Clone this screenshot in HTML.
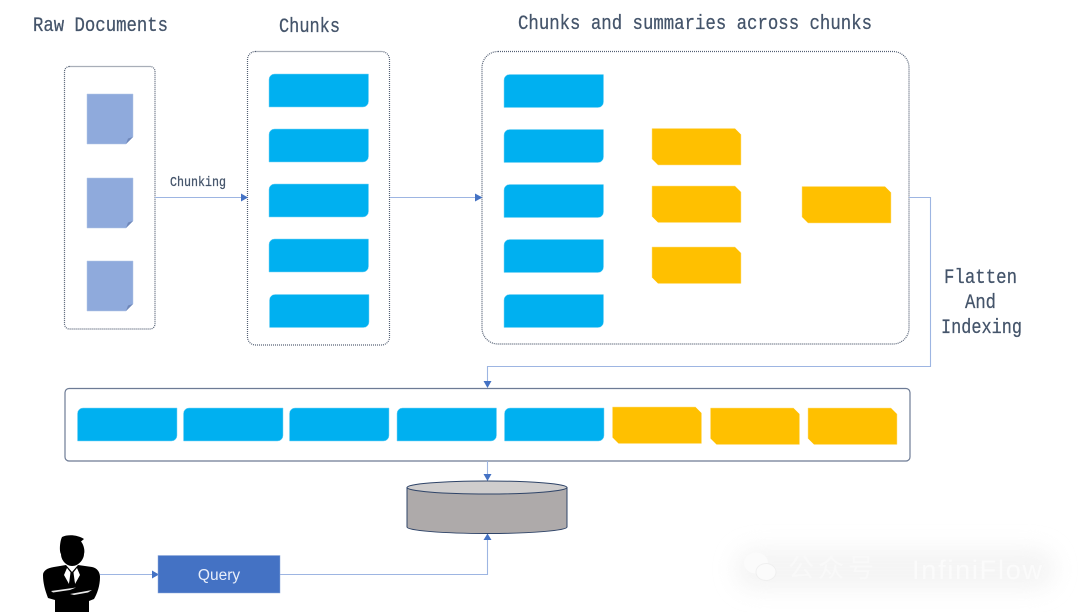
<!DOCTYPE html>
<html>
<head>
<meta charset="utf-8">
<style>
html,body{margin:0;padding:0;background:#fff;width:1080px;height:612px;overflow:hidden}
svg{display:block;filter:blur(.35px)}
.t{font-family:"Liberation Mono","DejaVu Sans Mono",monospace;fill:#44546a;stroke:#44546a;stroke-width:.25}
</style>
</head>
<body>
<svg width="1080" height="612" viewBox="0 0 1080 612" xmlns="http://www.w3.org/2000/svg">
<defs>
<path id="b" d="M5.500 0H99.500V27.500A5.500 5.500 0 0 1 94 33H0V5.500A5.500 5.500 0 0 1 5.500 0Z" fill="#00b0f0" stroke="#7fd5f5" stroke-width=".5"/>
<path id="y" d="M0 0H83L89 6V36.500H6L0 30.500Z" fill="#ffc000" stroke="#ffe08a" stroke-width=".5"/>
<g id="d"><path d="M0 0H46V43L39 50H0Z" fill="#8faadc" stroke="#b4c7e7" stroke-width=".5"/><path d="M39 50L41 44.500L46 43Z" fill="#6f87b8"/></g>
<filter id="bl" x="-20%" y="-60%" width="140%" height="220%"><feGaussianBlur stdDeviation="11"/></filter>
</defs>

<text class="t" x="33" y="31" font-size="20" textLength="135" lengthAdjust="spacingAndGlyphs">Raw Documents</text>
<text class="t" x="279" y="32" font-size="20" textLength="61" lengthAdjust="spacingAndGlyphs">Chunks</text>
<text class="t" x="518" y="29" font-size="20" textLength="354" lengthAdjust="spacingAndGlyphs">Chunks and summaries across chunks</text>
<text class="t" x="170" y="186" font-size="14" textLength="56" lengthAdjust="spacingAndGlyphs">Chunking</text>
<text class="t" x="944" y="283" font-size="20" textLength="73" lengthAdjust="spacingAndGlyphs">Flatten</text>
<text class="t" x="965" y="308" font-size="20" textLength="31" lengthAdjust="spacingAndGlyphs">And</text>
<text class="t" x="941" y="333" font-size="20" textLength="81" lengthAdjust="spacingAndGlyphs">Indexing</text>

<g fill="none" stroke="#525e72" stroke-width="1.200" stroke-dasharray="1 1">
<rect x="64.500" y="66.500" width="90.500" height="262.500" rx="5"/>
<rect x="247.500" y="51.500" width="142" height="293.500" rx="8"/>
<rect x="482" y="51.500" width="427" height="292.500" rx="16"/>
</g>

<use href="#d" x="87" y="94"/>
<use href="#d" x="87" y="178"/>
<use href="#d" x="87" y="261"/>

<use href="#b" x="269" y="74"/>
<use href="#b" x="269" y="129"/>
<use href="#b" x="269" y="184"/>
<use href="#b" x="269" y="239"/>
<use href="#b" x="269.500" y="294.500"/>

<use href="#b" x="504" y="74.500"/>
<use href="#b" x="504" y="129.500"/>
<use href="#b" x="504" y="184.500"/>
<use href="#b" x="504" y="239.500"/>
<use href="#b" x="504" y="294.500"/>

<use href="#y" x="652" y="128.500"/>
<use href="#y" x="652" y="186"/>
<use href="#y" x="652" y="247"/>
<use href="#y" x="802" y="186.500"/>

<rect x="65" y="388.500" width="845" height="72.500" rx="4" fill="#fff" stroke="#6d7b95" stroke-width="1.200"/>
<use href="#b" x="77.500" y="408"/>
<use href="#b" x="183.500" y="408"/>
<use href="#b" x="289.500" y="408"/>
<use href="#b" x="397" y="408"/>
<use href="#b" x="504.500" y="408"/>
<use href="#y" x="612.500" y="407"/>
<use href="#y" x="710.500" y="408"/>
<use href="#y" x="808" y="408"/>

<!-- connectors -->
<g fill="none" stroke="#9db5e2" stroke-width="1.100">
<path d="M155 197.500H242"/>
<path d="M390 197.500H477"/>
<path d="M909 197.500H930.500V366.500H487.500V383"/>
<path d="M487.500 461V476"/>
<path d="M100 574.500H154"/>
<path d="M280 574.500H487.500V538"/>
</g>
<g fill="#4472c4">
<path d="M241 193.500L248 197.500L241 201.500Z"/>
<path d="M475 193.500L482.500 197.500L475 201.500Z"/>
<path d="M483.500 381L487.500 388L491.500 381Z"/>
<path d="M483.500 474L487.500 481L491.500 474Z"/>
<path d="M152 570.500L159 574.500L152 578.500Z"/>
<path d="M483.500 540L487.500 533.500L491.500 540Z"/>
</g>

<!-- cylinder -->
<path d="M407 487.500V527C407 530.500 443 533.500 487 533.500S567 530.500 567 527V487.500Z" fill="#aeaaaa" stroke="#2f4468" stroke-width="1"/>
<ellipse cx="487" cy="487.500" rx="80" ry="6.500" fill="#cfcdcd" stroke="#2f4468" stroke-width="1"/>

<!-- query -->
<rect x="158" y="555.500" width="122" height="37.500" fill="#4472c4" stroke="#8faadc" stroke-width=".5"/>
<text x="219" y="580" text-anchor="middle" font-family="Liberation Sans, sans-serif" font-size="15.500" fill="#e8eefa">Query</text>

<!-- person -->
<g>
<path d="M62 537C68 534 78 535 84 539L81 541.500C84 545 85 551 84 554C84 559 79 566 72 566C66 566 61 560 61 554C59 551 60 541 62 537Z" fill="#000"/>
<path d="M54 567L66 565L72 572L78 565L92 567C97 568 100 572 100 577C100 586 97 594 94 599L89 601V612H55V600L48 598C45 590 43 583 43 575C43 571 47 568 54 567Z" fill="#000"/>
<path d="M67 568L71 573L69 584L64 575Z" fill="#fff"/>
<path d="M77 568L73 573L75 584L80 575Z" fill="#fff"/>
<path d="M70.500 572.500H73.500L75 584L72 587L69 584Z" fill="#000"/>
<path d="M51 591L76 587.500L70 590L53 592.500Z" fill="#e8e8e8"/>
<path d="M70 594L92 590L88 592.500L74 595Z" fill="#e8e8e8"/>
</g>

<!-- watermark -->
<rect x="735" y="548" width="320" height="42" rx="20" fill="#ececec" opacity=".55" filter="url(#bl)"/>
<g fill="#fbfbfb">
<ellipse cx="756" cy="563" rx="12" ry="10.500"/>
<ellipse cx="766" cy="572" rx="10" ry="8.500" stroke="#f0f0f0" stroke-width="1"/>
</g>
<text x="788" y="577" font-family="'Liberation Sans','Noto Sans CJK SC',sans-serif" font-size="26" fill="#f9f9f9" textLength="86">公众号</text>
<text x="912" y="579" font-family="'Liberation Sans',sans-serif" font-size="27" fill="#fbfbfb" textLength="130">InfiniFlow</text>
</svg>
</body>
</html>
